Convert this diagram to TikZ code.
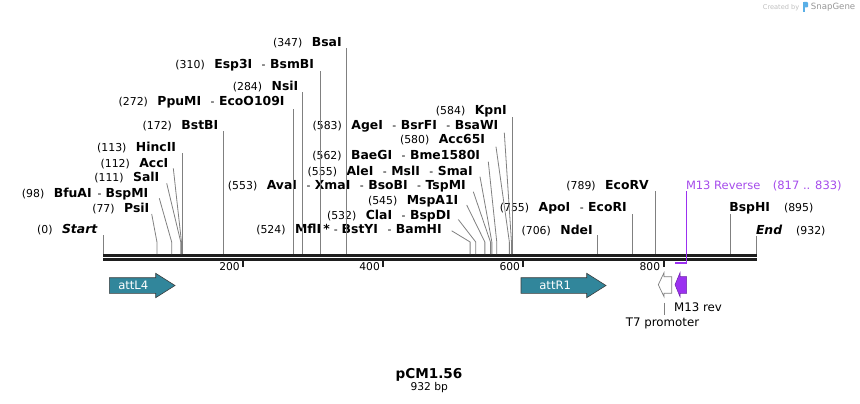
\documentclass[tikz,border=0pt]{standalone}
\usepackage{fontspec}
\setmainfont{DejaVu Sans}
\definecolor{teal1}{RGB}{49,134,155}
\definecolor{m13}{RGB}{155,48,240}
\definecolor{m13txt}{RGB}{165,75,235}
\definecolor{siteg}{RGB}{128,128,128}
\definecolor{seqk}{RGB}{30,30,30}
\definecolor{sgblue}{RGB}{90,175,230}
\newcommand\pn[1]{{\fontsize{10.9}{12}\selectfont(#1)}}
\newcommand\en[1]{{\fontsize{12.4}{14}\selectfont\bfseries #1}}
\newcommand\ei[1]{{\fontsize{12.4}{14}\selectfont\bfseries\itshape #1}}
\newcommand\gp{\hspace{9.5pt}}
\newcommand\sepr{\hspace{9.5pt}{\fontsize{10.9}{12}\selectfont -}\hspace{4.5pt}}
\newcommand\bpx[1]{103+#1*0.70064}
\tikzset{
  lbl/.style={inner sep=0pt, outer sep=0pt, anchor=base east, text=black},
  lblw/.style={lbl, anchor=base west},
  siteline/.style={draw=siteg, line width=0.8pt},
  seqline/.style={draw=seqk, line width=2.6pt},
  tickmark/.style={draw=seqk, line width=2pt},
  ticklbl/.style={inner sep=0pt, anchor=base east, font=\fontsize{10.7}{12}\selectfont},
  featbox/.style={draw={rgb,255:red,60;green,60;blue,60}, line width=0.6pt},
  feattxt/.style={inner sep=0pt, font=\fontsize{11.6}{13}\selectfont},
}
\begin{document}
\begin{tikzpicture}[x=1pt,y=-1pt]
\useasboundingbox (0,0) rectangle (860,404);
% sequence line
\coordinate (seqL) at (103,255.3);
\coordinate (seqR) at (756.5,255.3);
\coordinate (seqL2) at (103,259.5);
\coordinate (seqR2) at (756.5,259.5);
\draw[seqline] (seqL) -- (seqR);
\draw[seqline, line width=2.3pt] (seqL2) -- (seqR2);
\coordinate (bend) at (0,242);
% ticks
\foreach \t in {200,400,600,800}{
  \coordinate (tk\t) at ({\bpx{\t}},261);
  \draw[tickmark] (tk\t) -- ++(0,5.5);
  \node[ticklbl] (tl\t) at ([xshift=-3.2pt,yshift=-9.7pt]tk\t) {\t};
}
% sites
\foreach \n/\p in {BsaI/347,Esp/310,Nsi/284,Ppu/272,Bst/172,Hinc/113,AccI/112,Sal/111,Bfu/98,Psi/77,Start/0,
  Kpn/584,Age/583,Acc65/580,Bae/562,Ale/555,Ava/553,Msp/545,Cla/532,Mfl/524,Nde/706,Apo/755,EcoRV/789,Bsp/895,End/932}{
  \coordinate (s\n) at ({\bpx{\p}},254);
}
% left labels
\node[lbl] (lBsaI) at (341.7,47) {\pn{347}\gp\en{BsaI}};
\node[lbl] (lEsp) at (314,68.8) {\pn{310}\gp\en{Esp3I}\sepr\en{BsmBI}};
\node[lbl] (lNsi) at (298.3,91) {\pn{284}\gp\en{NsiI}};
\node[lbl] (lPpu) at (284.5,106) {\pn{272}\gp\en{PpuMI}\sepr\en{EcoO109I}};
\node[lbl] (lBst) at (218.3,129.5) {\pn{172}\gp\en{BstBI}};
\node[lbl] (lHinc) at (176,151.5) {\pn{113}\gp\en{HincII}};
\node[lbl] (lAccI) at (168.3,167) {\pn{112}\gp\en{AccI}};
\node[lbl] (lSal) at (159.3,181.8) {\pn{111}\gp\en{SalI}};
\node[lbl] (lBfu) at (148.3,197) {\pn{98}\gp\en{BfuAI}\hspace{6pt}{\fontsize{10.9}{12}\selectfont -}\hspace{4pt}\en{BspMI}};
\node[lbl] (lPsi) at (149.3,212.5) {\pn{77}\gp\en{PsiI}};
\node[lbl] (lStart) at (97.3,233.8) {\pn{0}\gp\ei{Start}};
% middle labels
\node[lbl] (lKpn) at (506.7,114.5) {\pn{584}\gp\en{KpnI}};
\node[lbl] (lAge) at (498.3,129.5) {\pn{583}\gp\en{AgeI}\sepr\en{BsrFI}\sepr\en{BsaWI}};
\node[lbl] (lAcc65) at (485,143.5) {\pn{580}\gp\en{Acc65I}};
\node[lbl] (lBae) at (480,159.5) {\pn{562}\gp\en{BaeGI}\sepr\en{Bme1580I}};
\node[lbl] (lAle) at (472.7,175) {\pn{555}\gp\en{AleI}\sepr\en{MslI}\sepr\en{SmaI}};
\node[lbl] (lAva) at (465.7,189.5) {\pn{553}\gp\en{AvaI}\sepr\en{XmaI}\sepr\en{BsoBI}\sepr\en{TspMI}};
\node[lbl] (lMsp) at (458.3,204.5) {\pn{545}\gp\en{MspA1I}};
\node[lbl] (lCla) at (450.7,219.5) {\pn{532}\gp\en{ClaI}\sepr\en{BspDI}};
\node[lbl] (lMfl) at (441.7,233.8) {\pn{524}\gp\en{MflI}\hspace{2pt}\en{*}\hspace{4pt}{\fontsize{10.9}{12}\selectfont -}\hspace{4pt}\en{BstYI}\sepr\en{BamHI}};
% right labels
\node[lbl] (lNde) at (592.7,234) {\pn{706}\gp\en{NdeI}};
\node[lbl] (lApo) at (626.7,211.8) {\pn{755}\gp\en{ApoI}\sepr\en{EcoRI}};
\node[lbl] (lEcoRV) at (648.7,189.5) {\pn{789}\gp\en{EcoRV}};
\node[lblw] (lBsp) at (729.3,211.8) {\en{BspHI}\hspace{14pt}\pn{895}};
\node[lblw] (lEnd) at (756,234.5) {\ei{End}\hspace{14pt}\pn{932}};
% vertical site lines
\foreach \n in {BsaI,Esp,Nsi,Ppu,Bst,Hinc,Start,Kpn,Nde,Apo,EcoRV,Bsp,End}{
  \draw[siteline] (s\n) -- (s\n |- l\n.south);
}
% slanted site lines
\foreach \n/\dx/\dy in {AccI/5/1.3,Sal/7.4/1.5,Bfu/11/1.3,Psi/2.4/1.5,Age/6/3.2,Acc65/11/3.2,Bae/8.3/2.2,Ale/7.3/1.7,Ava/7.6/2.2,Msp/8.4/0.5,Cla/7.6/0,Mfl/10/-3}{
  \draw[siteline] ([shift={(\dx,\dy)}]l\n.base east) -- (s\n |- bend) -- (s\n);
}
% M13 Reverse primer
\coordinate (m13top) at ({\bpx{833}},191);
\coordinate (m13end) at ({\bpx{817}},263);
\node[lblw, text=m13txt, font=\fontsize{11.5}{13}\selectfont] (lM13R) at (686,189.3) {M13 Reverse\hspace{12.5pt}(817 .. 833)};
\draw[draw=m13, line width=1.5pt] (m13top) -- (m13top |- m13end) -- (m13end);
% features
\draw[featbox, fill=teal1] (109.3,277.7) -- (155.7,277.7) -- (155.7,273.3) -- (175,285.5) -- (155.7,297.7) -- (155.7,293.3) -- (109.3,293.3) -- cycle;
\node[feattxt, text=white] (fattL4) at (133.3,285) {attL4};
\draw[featbox, fill=teal1] (521,277.7) -- (586.7,277.7) -- (586.7,273.3) -- (606,285.5) -- (586.7,297.7) -- (586.7,293.3) -- (521,293.3) -- cycle;
\node[feattxt, text=white] (fattR1) at (555.2,285) {attR1};
\draw[draw=gray, fill=white, line width=0.7pt] (658.3,284.7) -- (664,272.7) -- (664,276.7) -- (671.7,276.7) -- (671.7,293.3) -- (664,293.3) -- (664,296.7) -- cycle;
\coordinate (t7foot) at (664,302.5);
\node[inner sep=0pt, anchor=base, font=\fontsize{11.8}{13}\selectfont] (lT7) at (662.5,326) {T7 promoter};
\draw[draw=gray, line width=0.7pt] (t7foot) -- ([yshift=2.5pt]t7foot |- lT7.north);
\draw[draw=m13!70!black, fill=m13, line width=0.5pt] (675,284.7) -- (680,272.7) -- (680,276.7) -- (686.7,276.7) -- (686.7,293.3) -- (680,293.3) -- (680,296.7) -- cycle;
\node[inner sep=0pt, anchor=base west, font=\fontsize{11.8}{13}\selectfont] (lM13rev) at (674,311.7) {M13 rev};
% title
\node[inner sep=0pt, anchor=base, font=\fontsize{13.6}{15}\selectfont\bfseries] (title) at (429,378.3) {pCM1.56};
\node[inner sep=0pt, anchor=base, font=\fontsize{10.7}{12}\selectfont] (size) at (429.2,390) {932 bp};
% SnapGene credit
\node[inner sep=0pt, anchor=base west, text={rgb,255:red,190;green,190;blue,190}, font=\fontsize{6.6}{8}\selectfont] (cred) at (762.7,9.3) {Created by};
\fill[sgblue, rounded corners=1pt] (803,2) rectangle (808,7.5);
\fill[sgblue] (803,2) rectangle (805.2,12);
\node[inner sep=0pt, anchor=base west, text={rgb,255:red,150;green,150;blue,150}, font=\fontsize{8.6}{10}\selectfont] (sg) at (810.7,10) {SnapGene};
\end{tikzpicture}
\end{document}
